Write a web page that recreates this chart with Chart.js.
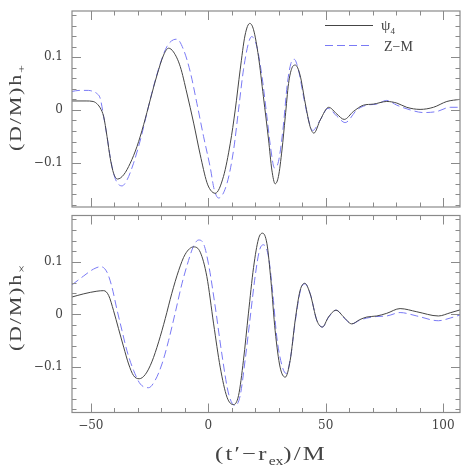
<!DOCTYPE html>
<html>
<head>
<meta charset="utf-8">
<script src="https://cdn.jsdelivr.net/npm/chart.js@4.4.1/dist/chart.umd.min.js"></script>
<style>
html, body { margin: 0; padding: 0; background: #fff; }
#wrap { position: relative; width: 471px; height: 471px; overflow: hidden; }
#top-chart { position: absolute; left: 0; top: 0; }
#bottom-chart { position: absolute; left: 0; top: 212px; }
</style>
</head>
<body>
<div id="wrap">
    <canvas id="top-chart" width="471" height="212"></canvas>
    <canvas id="bottom-chart" width="471" height="259"></canvas>
</div>
<script>
// 数据
const xTickValues = [-50, 0, 50, 100];
const yTickValues = [-0.1, 0, 0.1];

// 上图 h+ : psi4
const hPlusPsi4T = [-58, -52, -49, -48, -47, -46, -44.5, -43.1, -41.7, -40.3, -38.6, -36, -33.2, -30.3, -27.5, -24.7, -21.8, -19, -16.9, -14.8, -11.9, -9.1, -6.2, -3.4, -0.6, 1, 3, 6.5, 9.4, 11.5, 13.6, 15.7, 17.7, 19.3, 21.4, 23.5, 25.7, 27.1, 28.5, 29.9, 31.4, 32.8, 34.2, 35.6, 37.1, 39.1, 41.3, 43.4, 45, 47.7, 51.3, 54.8, 57.9, 61.8, 66.1, 70.3, 76, 80.3, 84.5, 90.2, 95.9, 101.6, 107.2];
const hPlusPsi4 = [0.017, 0.017, 0.016, 0.014, 0.010, 0.004, -0.013, -0.05, -0.092, -0.120, -0.131, -0.123, -0.101, -0.069, -0.028, 0.019, 0.066, 0.104, 0.117, 0.110, 0.082, 0.032, -0.025, -0.085, -0.137, -0.152, -0.158, -0.126, -0.063, 0.0, 0.076, 0.142, 0.164, 0.152, 0.101, 0.025, -0.057, -0.114, -0.140, -0.126, -0.076, -0.013, 0.05, 0.079, 0.085, 0.066, 0.013, -0.032, -0.044, -0.019, 0.005, -0.008, -0.018, -0.003, 0.009, 0.011, 0.016, 0.013, 0.005, 0.001, 0.005, 0.016, 0.020];

// 上图 h+ : Z-M
const hPlusZmT = [-58, -55, -51, -48.5, -47.4, -46, -44.5, -43.1, -41.7, -40.3, -38.9, -36.7, -34.6, -31.8, -28.9, -26.1, -23.3, -20.4, -17.6, -14.8, -13.3, -10.5, -7.7, -4.8, -2, 0.9, 2.5, 4.4, 8, 10.8, 12.9, 15, 17.1, 18.5, 20.7, 22.9, 25, 26.7, 28.2, 29.9, 31.8, 33.7, 35.2, 36.6, 38.4, 40.6, 42.7, 44.5, 47.7, 51, 54.8, 58.3, 63.3, 67.5, 71.8, 76, 80.3, 86, 91.6, 97.3, 103, 107.2];
const hPlusZm = [0.035, 0.037, 0.037, 0.034, 0.031, 0.022, -0.013, -0.05, -0.09, -0.12, -0.137, -0.144, -0.133, -0.101, -0.057, -0.006, 0.044, 0.088, 0.12, 0.133, 0.134, 0.114, 0.073, 0.012, -0.05, -0.11, -0.15, -0.167, -0.139, -0.076, 0.0, 0.076, 0.126, 0.139, 0.12, 0.063, -0.013, -0.076, -0.110, -0.098, -0.038, 0.05, 0.088, 0.096, 0.076, 0.025, -0.019, -0.039, -0.019, 0.003, -0.012, -0.024, 0.0, 0.009, 0.011, 0.018, 0.009, 0.0, -0.005, -0.003, 0.005, 0.005];

// 下图 hx : psi4
const hCrossPsi4T = [-58, -53, -47.4, -44.5, -42.4, -40.3, -38.2, -36, -33.9, -31.8, -29.4, -26.8, -24, -21.1, -18.3, -15.5, -12.6, -9.8, -6.2, -3.4, -0.6, 2.3, 5.1, 8, 10.8, 12.9, 15, 17.1, 19.3, 21.4, 23.1, 25, 26.7, 28.5, 30.6, 32.8, 34.9, 37, 39.1, 41.1, 43.4, 46.3, 48.6, 51.2, 54.4, 57.9, 61.1, 64.5, 67.5, 71.8, 76, 81.7, 88.8, 98, 103, 107.2];
const hCrossPsi4 = [0.033, 0.039, 0.044, 0.045, 0.036, 0.007, -0.027, -0.062, -0.094, -0.116, -0.122, -0.114, -0.090, -0.052, -0.008, 0.040, 0.083, 0.114, 0.128, 0.118, 0.072, -0.018, -0.1, -0.157, -0.171, -0.154, -0.087, 0.001, 0.089, 0.143, 0.154, 0.134, 0.064, -0.031, -0.1, -0.119, -0.087, -0.012, 0.045, 0.059, 0.039, -0.012, -0.024, -0.005, 0.008, -0.006, -0.018, -0.01, -0.005, -0.003, 0.002, 0.011, 0.005, -0.003, 0.003, 0.0085];

// 下图 hx : Z-M
const hCrossZmT = [-58, -53, -48.8, -45.7, -43.1, -41, -38.9, -36.7, -34.6, -31.8, -28.9, -25.4, -22.6, -19.7, -16.9, -14, -11.2, -8.4, -6.2, -4.1, -2, 0.1, 3, 5.8, 8.7, 11.5, 13.6, 15.7, 17.9, 20, 21.8, 23.5, 25.7, 27.5, 29.2, 31.4, 33.2, 35.1, 37.1, 39.2, 41.2, 43.5, 46.3, 48.7, 51.3, 54.5, 57.9, 61.1, 64.5, 67.5, 71.8, 76, 81.7, 88.8, 98, 103, 107.2];
const hCrossZm = [0.056, 0.073, 0.086, 0.0905, 0.08, 0.052, 0.01, -0.031, -0.069, -0.106, -0.132, -0.139, -0.125, -0.094, -0.05, 0.004, 0.058, 0.102, 0.13, 0.141, 0.134, 0.096, 0.014, -0.075, -0.151, -0.173, -0.154, -0.087, -0.005, 0.073, 0.121, 0.132, 0.108, 0.039, -0.043, -0.097, -0.112, -0.08, -0.012, 0.044, 0.058, 0.038, -0.012, -0.024, -0.005, 0.008, -0.007, -0.018, -0.011, -0.007, -0.004, -0.003, 0.0035, -0.003, -0.012, -0.007, -0.001];

const SOLID_COLOR = '#454545';
const DASH_COLOR = '#7a7af5';
const FRAME_COLOR = '#8a8a8a';
const TEXT_COLOR = '#444';

function toPoints(ts, vs) {
    return ts.map((t, i) => ({ x: t, y: vs[i] }));
}

function fmtTick(v) {
    if (Math.abs(v) < 1e-9) return '0';
    return (v < 0 ? '\u2212' : '') + Math.abs(v);
}

// 带下标的文字 (宽字体: 拉伸 + 主字字距)
function drawRich(ctx, parts, opts) {
    const size = opts.size;
    const stretch = opts.stretch || 1;
    const mainFont = size + 'px "Liberation Serif"';
    const subFont = Math.round(size * 0.62) + 'px "Liberation Serif"';
    ctx.save();
    ctx.translate(opts.x, opts.y);
    if (opts.rotate) ctx.rotate(opts.rotate);
    ctx.letterSpacing = '0px';
    let natural = 0;
    let nChars = 0;
    const widths = parts.map(p => {
        ctx.font = p[1] ? subFont : mainFont;
        const w = ctx.measureText(p[0]).width;
        natural += w;
        if (!p[1]) nChars += [...p[0]].length;
        return w;
    });
    let spacing = 0;
    if (opts.width && nChars) {
        spacing = Math.max(0, (opts.width / stretch - natural) / nChars);
    }
    const total = natural + spacing * nChars;
    ctx.scale(stretch, 1);
    let x = opts.align === 'left' ? 0 : -total / 2;
    const base = size * 0.33;
    ctx.fillStyle = TEXT_COLOR;
    ctx.textAlign = 'left';
    ctx.textBaseline = 'alphabetic';
    parts.forEach((p, i) => {
        const sp = p[1] ? 0 : spacing;
        ctx.font = p[1] ? subFont : mainFont;
        ctx.letterSpacing = sp.toFixed(2) + 'px';
        ctx.fillText(p[0], x, p[1] ? base + size * 0.25 : base);
        x += widths[i] + sp * [...p[0]].length;
    });
    ctx.restore();
}

// 边框和向内的刻度
const framePlugin = {
    id: 'frame',
    afterDatasetsDraw(chart) {
        const ctx = chart.ctx;
        const a = chart.chartArea;
        const xs = chart.scales.x;
        const ys = chart.scales.y;
        ctx.save();
        ctx.strokeStyle = FRAME_COLOR;
        ctx.lineWidth = 1.2;
        ctx.strokeRect(a.left, a.top, a.right - a.left, a.bottom - a.top);
        ctx.lineWidth = 1;
        ctx.beginPath();
        for (let k = Math.ceil(xs.min / 10); k <= Math.floor(xs.max / 10); k++) {
            const px = Math.round(xs.getPixelForValue(k * 10)) + 0.5;
            const len = k % 5 === 0 ? 9 : 4.5;
            ctx.moveTo(px, a.bottom); ctx.lineTo(px, a.bottom - len);
            ctx.moveTo(px, a.top); ctx.lineTo(px, a.top + len);
        }
        for (let k = Math.ceil(ys.min / 0.02 - 1e-6); k <= Math.floor(ys.max / 0.02 + 1e-6); k++) {
            const py = Math.round(ys.getPixelForValue(k * 0.02)) + 0.5;
            const len = k % 5 === 0 ? 9 : 4.5;
            ctx.moveTo(a.left, py); ctx.lineTo(a.left + len, py);
            ctx.moveTo(a.right, py); ctx.lineTo(a.right - len, py);
        }
        ctx.stroke();
        ctx.restore();
    }
};

// 坐标轴标题和图例
const labelPlugin = {
    id: 'labels',
    afterDraw(chart, args, opts) {
        const ctx = chart.ctx;
        if (opts.yTitle) {
            drawRich(ctx, opts.yTitle, { x: 15, y: opts.yTitleY, size: 17, rotate: -Math.PI / 2, width: 86, stretch: 1.3 });
        }
        if (opts.xTitle) {
            drawRich(ctx, opts.xTitle, { x: 271, y: opts.xTitleY, size: 19, width: 112, stretch: 1.3 });
        }
        if (opts.legend) {
            ctx.save();
            ctx.lineWidth = 1;
            ctx.strokeStyle = SOLID_COLOR;
            ctx.beginPath(); ctx.moveTo(325, 25.5); ctx.lineTo(373, 25.5); ctx.stroke();
            ctx.strokeStyle = DASH_COLOR;
            ctx.setLineDash([8, 4]);
            ctx.beginPath(); ctx.moveTo(325, 45.5); ctx.lineTo(373, 45.5); ctx.stroke();
            ctx.restore();
            drawRich(ctx, [['\u03c8', false], ['4', true]], { x: 381, y: 25, size: 15, align: 'left' });
            drawRich(ctx, [['Z\u2212M', false]], { x: 384, y: 46, size: 14, align: 'left', width: 29 });
        }
    }
};

function makeOptions(cfg) {
    return {
        responsive: false,
        animation: false,
        layout: { padding: { top: cfg.padTop, right: 11, left: 0, bottom: 0 } },
        plugins: {
            legend: { display: false },
            tooltip: { enabled: false },
            labels: cfg.labels
        },
        scales: {
            x: {
                type: 'linear',
                min: -58,
                max: 107.2,
                grid: { display: false, drawTicks: false },
                border: { display: false },
                afterBuildTicks: s => { s.ticks = xTickValues.map(v => ({ value: v })); },
                afterFit: s => {
                    s.height = cfg.xHeight;
                    s.paddingLeft = 0;
                    s.paddingRight = 0;
                },
                ticks: {
                    display: cfg.showX,
                    padding: 6,
                    color: TEXT_COLOR,
                    font: { family: 'DejaVu Serif', size: 12 },
                    callback: v => fmtTick(v)
                }
            },
            y: {
                type: 'linear',
                min: cfg.yMin,
                max: 0.1875,
                grid: { display: false, drawTicks: false },
                border: { display: false },
                afterBuildTicks: s => { s.ticks = yTickValues.map(v => ({ value: v })); },
                afterFit: s => {
                    s.width = 72;
                    s.paddingTop = 0;
                    s.paddingBottom = 0;
                },
                ticks: {
                    padding: 9,
                    color: TEXT_COLOR,
                    font: { family: 'DejaVu Serif', size: 12 },
                    callback: v => fmtTick(v)
                }
            }
        }
    };
}

function makeDatasets(psiT, psi, zmT, zm) {
    return [
        {
            label: '\u03c84',
            data: toPoints(psiT, psi),
            showLine: true,
            borderColor: SOLID_COLOR,
            borderWidth: 1,
            pointRadius: 0,
            cubicInterpolationMode: 'monotone'
        },
        {
            label: 'Z-M',
            data: toPoints(zmT, zm),
            showLine: true,
            borderColor: DASH_COLOR,
            borderWidth: 1,
            borderDash: [8, 4],
            pointRadius: 0,
            cubicInterpolationMode: 'monotone'
        }
    ];
}

new Chart(document.getElementById('top-chart'), {
    type: 'scatter',
    data: { datasets: makeDatasets(hPlusPsi4T, hPlusPsi4, hPlusZmT, hPlusZm) },
    options: makeOptions({
        padTop: 11, xHeight: 5, showX: false, yMin: -0.184,
        labels: { yTitle: [['(D/M)h', false], ['+', true]], yTitleY: 108, legend: true }
    }),
    plugins: [framePlugin, labelPlugin]
});

new Chart(document.getElementById('bottom-chart'), {
    type: 'scatter',
    data: { datasets: makeDatasets(hCrossPsi4T, hCrossPsi4, hCrossZmT, hCrossZm) },
    options: makeOptions({
        padTop: 3.5, xHeight: 58.5, showX: true, yMin: -0.186,
        labels: {
            yTitle: [['(D/M)h', false], ['\u00d7', true]], yTitleY: 96,
            xTitle: [['(t\u2032\u2212r', false], ['ex', true], [')/M', false]], xTitleY: 242
        }
    }),
    plugins: [framePlugin, labelPlugin]
});
</script>
</body>
</html>
